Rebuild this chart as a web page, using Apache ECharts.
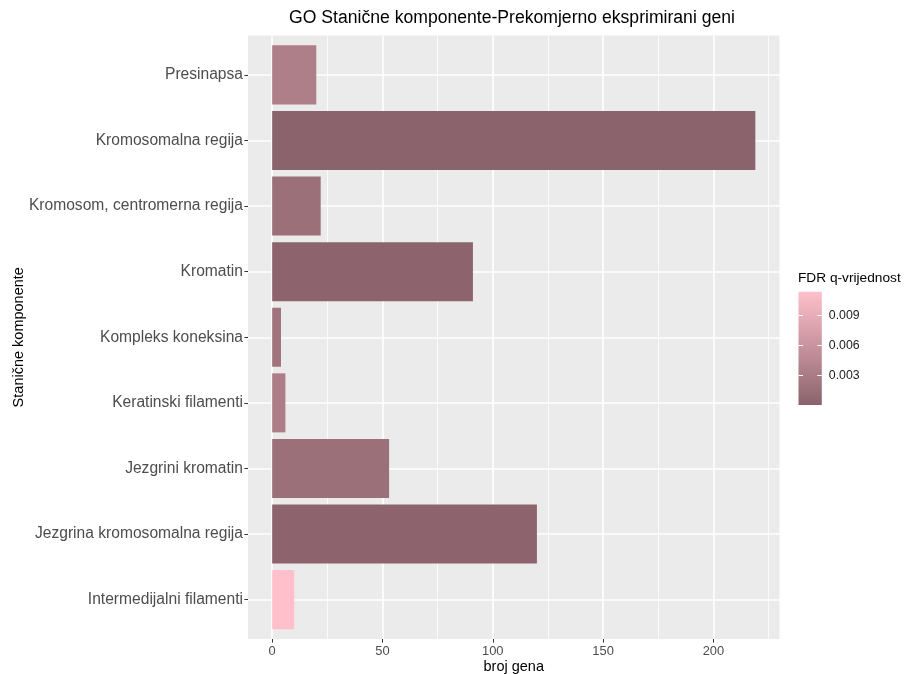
<!DOCTYPE html>
<html>
<head>
<meta charset="utf-8">
<script src="https://cdn.jsdelivr.net/npm/echarts@6/dist/echarts.min.js"></script>
<style>
html,body{margin:0;padding:0;background:#fff;}
#chart{width:909px;height:674px;}
</style>
</head>
<body>
<div id="chart"></div>
<script>
// ---- data ----
const categories = ['Presinapsa', 'Kromosomalna regija', 'Kromosom, centromerna regija', 'Kromatin', 'Kompleks koneksina', 'Keratinski filamenti', 'Jezgrini kromatin', 'Jezgrina kromosomalna regija', 'Intermedijalni filamenti'];
const geneCounts = [20, 219, 22, 91, 4, 6, 53, 120, 10];
const fdrQ = [0.0035, 0.00005, 0.0016, 0.0002, 0.0022, 0.0034, 0.0016, 0.0002, 0.0114];
const xMajorTicks = [0, 50, 100, 150, 200];
const xMinorTicks = [25, 75, 125, 175, 225];
const legendTicks = [0.003, 0.006, 0.009];
const fillColors = ['#8B636C', '#FFC0CB']; // low q -> high q

// ---- scales (ggplot-like expansion) ----
const xMaxData = Math.max(...geneCounts);
const xMin = -0.05 * xMaxData;
const xMax = xMaxData * 1.05;
const yMin = -0.6;
const yMax = categories.length - 1 + 0.6;
const qMin = Math.min(...fdrQ);
const qMax = Math.max(...fdrQ);

const FONT = 'Liberation Sans, Arial, sans-serif';
const chart = echarts.init(document.getElementById('chart'), null, {renderer: 'canvas'});

const barData = categories.map((c, i) => [geneCounts[i], i, fdrQ[i]]);

const gridLines = [
  ...xMinorTicks.map(v => ({xAxis: v, lineStyle: {width: 0.8}})),
  ...xMajorTicks.map(v => ({xAxis: v, lineStyle: {width: 1.6}})),
  ...categories.map((c, i) => ({yAxis: i, lineStyle: {width: 1.6}}))
];

const option = {
  animation: false,
  backgroundColor: '#ffffff',
  textStyle: {fontFamily: FONT},
  title: [
    {
      text: 'GO Stanične komponente-Prekomjerno eksprimirani geni',
      left: 512, top: 9, padding: 0, textAlign: 'center',
      textStyle: {fontFamily: FONT, fontSize: 17.6, fontWeight: 'normal', color: '#000'}
    },
    {
      text: 'FDR q-vrijednost',
      left: 798, top: 271, padding: 0,
      textStyle: {fontFamily: FONT, fontSize: 13.7, fontWeight: 'normal', color: '#000'}
    }
  ],
  grid: [
    {left: 248, right: 129.5, top: 35.5, bottom: 35, show: true, backgroundColor: '#EBEBEB', borderWidth: 0,
      containLabel: false, outerBoundsMode: 'none'},
    {left: 798.5, top: 291.7, width: 23.3, height: 113.3, show: true, borderWidth: 0, outerBoundsMode: 'none',
      backgroundColor: {type: 'linear', x: 0, y: 0, x2: 0, y2: 1,
        colorStops: [{offset: 0, color: fillColors[1]}, {offset: 1, color: fillColors[0]}]}}
  ],
  visualMap: [{
    show: false, type: 'continuous', seriesIndex: 1, dimension: 2,
    min: qMin, max: qMax, inRange: {color: fillColors}
  }],
  xAxis: [
    {
      gridIndex: 0, type: 'value', min: xMin, max: xMax, position: 'bottom',
      name: 'broj gena', nameLocation: 'middle', nameGap: 20, nameMoveOverlap: false,
      nameTextStyle: {fontFamily: FONT, fontSize: 14.5, color: '#000'},
      axisLine: {show: false, onZero: false},
      splitLine: {show: false},
      axisTick: {show: true, length: 3.6, lineStyle: {color: '#333', width: 1}, customValues: xMajorTicks},
      axisLabel: {show: true, customValues: xMajorTicks, margin: 6, fontFamily: FONT, fontSize: 12.9, color: '#4D4D4D'}
    },
    {gridIndex: 1, type: 'value', min: 0, max: 1, show: false}
  ],
  yAxis: [
    {
      gridIndex: 0, type: 'value', min: yMin, max: yMax, inverse: true, position: 'left',
      name: 'Stanične komponente', nameLocation: 'middle', nameGap: 222, nameRotate: 90, nameMoveOverlap: false,
      nameTextStyle: {fontFamily: FONT, fontSize: 14.5, color: '#000'},
      axisLine: {show: false, onZero: false},
      splitLine: {show: false},
      axisTick: {show: true, length: 3.6, lineStyle: {color: '#333', width: 1}, customValues: categories.map((c, i) => i)},
      axisLabel: {show: true, customValues: categories.map((c, i) => i), margin: 5,
        fontFamily: FONT, fontSize: 15.6, color: '#4D4D4D',
        formatter: v => categories[Math.round(v)] || ''}
    },
    {
      gridIndex: 1, type: 'value', min: qMin, max: qMax, position: 'left',
      axisLine: {show: false}, splitLine: {show: false}, axisLabel: {show: false},
      axisTick: {show: true, inside: true, length: 4.5, lineStyle: {color: '#fff', width: 1}, customValues: legendTicks}
    },
    {
      gridIndex: 1, type: 'value', min: qMin, max: qMax, position: 'right',
      axisLine: {show: false}, splitLine: {show: false},
      axisTick: {show: true, inside: true, length: 4.5, lineStyle: {color: '#fff', width: 1}, customValues: legendTicks},
      axisLabel: {show: true, customValues: legendTicks, margin: 7, fontFamily: FONT, fontSize: 12.3, color: '#1A1A1A',
        formatter: v => v.toFixed(3)}
    }
  ],
  series: [
    {
      type: 'line', xAxisIndex: 0, yAxisIndex: 0, data: [], z: 1, silent: true,
      markLine: {
        z: 1, silent: true, symbol: ['none', 'none'], label: {show: false}, animation: false,
        lineStyle: {color: '#ffffff', type: 'solid', width: 1.6, opacity: 1},
        emphasis: {disabled: true},
        data: gridLines
      }
    },
    {
      type: 'custom', xAxisIndex: 0, yAxisIndex: 0, z: 3,
      data: barData,
      encode: {x: 0, y: 1},
      renderItem: function (params, api) {
        const v = api.value(0), i = api.value(1);
        const a = api.coord([0, i - 0.45]);
        const b = api.coord([v, i + 0.45]);
        return {
          type: 'rect',
          shape: {x: a[0], y: Math.min(a[1], b[1]), width: b[0] - a[0], height: Math.abs(b[1] - a[1])},
          style: {fill: api.visual('color')}
        };
      }
    }
  ]
};
chart.setOption(option);
</script>
</body>
</html>
